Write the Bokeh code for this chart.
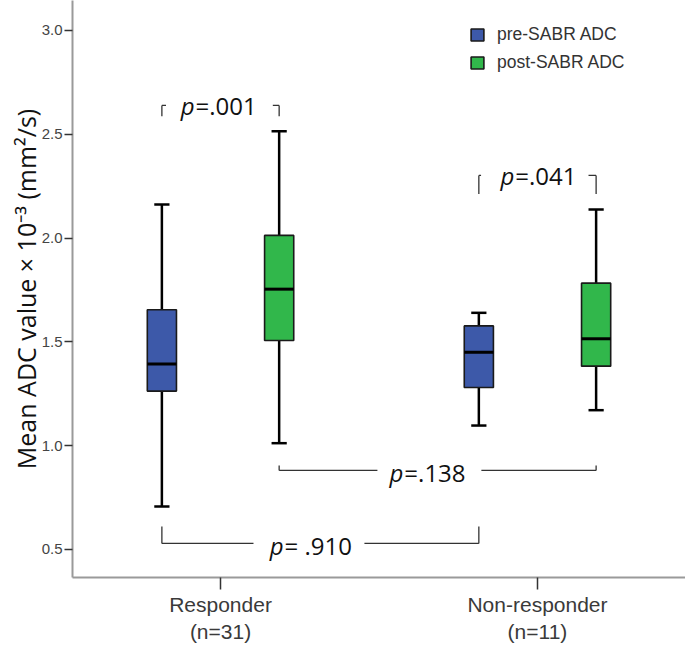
from bokeh.plotting import figure
from bokeh.models import Range1d, FixedTicker, Legend, LegendItem, NumeralTickFormatter
from bokeh.core.properties import value
from bokeh.embed import file_html
from bokeh.resources import INLINE

# ---------------- data ----------------
categories = ["Responder\n(n=31)", "Non-responder\n(n=11)"]
series = ["pre-SABR ADC", "post-SABR ADC"]

pre_low = [0.707, 1.097]
pre_q1 = [1.263, 1.280]
pre_med = [1.394, 1.450]
pre_q3 = [1.655, 1.577]
pre_high = [2.162, 1.640]

post_low = [1.012, 1.171]
post_q1 = [1.507, 1.383]
post_med = [1.754, 1.515]
post_q3 = [2.013, 1.783]
post_high = [2.515, 2.138]

y_ticks = [0.5, 1.0, 1.5, 2.0, 2.5, 3.0]
y_tick_labels = ["0.5", "1.0", "1.5", "2.0", "2.5", "3.0"]
y_title = "Mean ADC value \u00d7 10\u207b\u00b3 (mm\u00b2/s)"

p_rest = ["=.001", "=.041", "=.138", " = .910"]

# ---------------- styles ----------------
BLUE = "#3D59A9"
GREEN = "#31B74B"
OFF = 0.185
BOX_W = 0.092
CAP_HALF = 0.024
ANN_FONT = "Open Sans"
ANN_SIZE = "24px"

p = figure(width=685, height=647, output_backend="svg", toolbar_location=None,
           x_range=Range1d(-0.467, 1.467), y_range=Range1d(0.365, 3.1445),
           min_border_left=72, min_border_right=0, min_border_top=0, min_border_bottom=70)
p.outline_line_color = None
p.xgrid.grid_line_color = None
p.ygrid.grid_line_color = None
p.background_fill_color = "white"

xs = list(range(len(categories)))
groups = [
    (series[0], BLUE, [x - OFF for x in xs], pre_low, pre_q1, pre_med, pre_q3, pre_high),
    (series[1], GREEN, [x + OFF for x in xs], post_low, post_q1, post_med, post_q3, post_high),
]
legend_items = []
for name, color, gx, lo, q1, med, q3, hi in groups:
    p.segment(x0=gx, x1=gx, y0=lo, y1=q1, line_color="black", line_width=2.5)
    p.segment(x0=gx, x1=gx, y0=q3, y1=hi, line_color="black", line_width=2.5)
    p.segment(x0=[x - CAP_HALF for x in gx], x1=[x + CAP_HALF for x in gx], y0=lo, y1=lo,
              line_color="black", line_width=2.5)
    p.segment(x0=[x - CAP_HALF for x in gx], x1=[x + CAP_HALF for x in gx], y0=hi, y1=hi,
              line_color="black", line_width=2.5)
    r = p.vbar(x=gx, width=BOX_W, bottom=q1, top=q3, fill_color=color,
               line_color="#1a1a1a", line_width=1.6)
    p.segment(x0=[x - BOX_W / 2 for x in gx], x1=[x + BOX_W / 2 for x in gx], y0=med, y1=med,
              line_color="black", line_width=3)
    legend_items.append(LegendItem(label=name, renderers=[r]))

# ---------------- significance brackets ----------------
pre_x = groups[0][2]
post_x = groups[1][2]
brackets = [
    # x_left, x_right, y_line, y_tip, gap_left, gap_right, split_x, y_text, label
    (pre_x[0], post_x[0], 2.639, 2.587, 0.0 - 0.172, 0.0 + 0.165, -0.082, 2.639, p_rest[0]),
    (pre_x[1], post_x[1], 2.302, 2.212, 1.0 - 0.178, 1.0 + 0.161, 0.927, 2.302, p_rest[1]),
    (post_x[0], post_x[1], 0.881, 0.905, 0.495, 0.823, 0.577, 0.872, p_rest[2]),
    (pre_x[0], pre_x[1], 0.529, 0.611, 0.104, 0.454, 0.199, 0.518, p_rest[3]),
]
for xl, xr, yl, yt, gl, gr, sx, ytx, lab in brackets:
    p.segment(x0=[xl, gr, xl, xr], x1=[gl, xr, xl, xr], y0=[yl, yl, yl, yl], y1=[yl, yl, yt, yt],
              line_color="#333333", line_width=1.3)
    p.text(x=[sx], y=[ytx], text=["p"], text_align="right", text_baseline="alphabetic",
           text_font=value(ANN_FONT), text_font_style="italic", text_font_size=ANN_SIZE,
           text_color="#111111")
    p.text(x=[sx + 0.003], y=[ytx], text=[lab], text_align="left", text_baseline="alphabetic",
           text_font=value(ANN_FONT), text_font_size=ANN_SIZE, text_color="#111111")

# ---------------- axes ----------------
p.xaxis.ticker = FixedTicker(ticks=xs)
p.xaxis.major_label_overrides = {i: c for i, c in zip(xs, categories)}
p.xaxis.axis_line_color = "#9a9a9a"
p.xaxis.axis_line_width = 2
p.xaxis.major_tick_line_color = "#333333"
p.xaxis.major_tick_line_width = 1.5
p.xaxis.major_tick_out = 12
p.xaxis.major_tick_in = 0
p.xaxis.minor_tick_line_color = None
p.xaxis.major_label_standoff = 3
p.xaxis.major_label_text_font = "Liberation Sans"
p.xaxis.major_label_text_font_size = "21px"
p.xaxis.major_label_text_line_height = 1.2
p.xaxis.major_label_text_color = "#3a3a3a"

p.yaxis.ticker = FixedTicker(ticks=y_ticks)
p.yaxis.formatter = NumeralTickFormatter(format="0.0")
p.yaxis.major_label_overrides = {t: l for t, l in zip(y_ticks, y_tick_labels)}
p.yaxis.axis_line_color = "#9a9a9a"
p.yaxis.axis_line_width = 2
p.yaxis.major_tick_line_color = "#333333"
p.yaxis.major_tick_line_width = 1.5
p.yaxis.major_tick_out = 8
p.yaxis.major_tick_in = 0
p.yaxis.minor_tick_line_color = None
p.yaxis.major_label_standoff = 2
p.yaxis.major_label_text_font = "Liberation Sans"
p.yaxis.major_label_text_font_size = "15px"
p.yaxis.major_label_text_color = "#444444"
p.yaxis.axis_label = y_title
p.yaxis.axis_label_text_font = "Open Sans"
p.yaxis.axis_label_text_font_style = "normal"
p.yaxis.axis_label_text_font_size = "25px"
p.yaxis.axis_label_text_color = "#111111"
p.yaxis.axis_label_standoff = -4

legend = Legend(items=legend_items, location=(397, 504), orientation="vertical",
                glyph_width=16, glyph_height=15, label_standoff=12, spacing=7,
                padding=0, margin=0, border_line_alpha=0, background_fill_alpha=0,
                label_text_font="Liberation Sans", label_text_font_size="17.5px",
                label_text_color="#333333", label_height=15)
p.add_layout(legend, "center")

open("out.html", "w").write(file_html(p, INLINE))
